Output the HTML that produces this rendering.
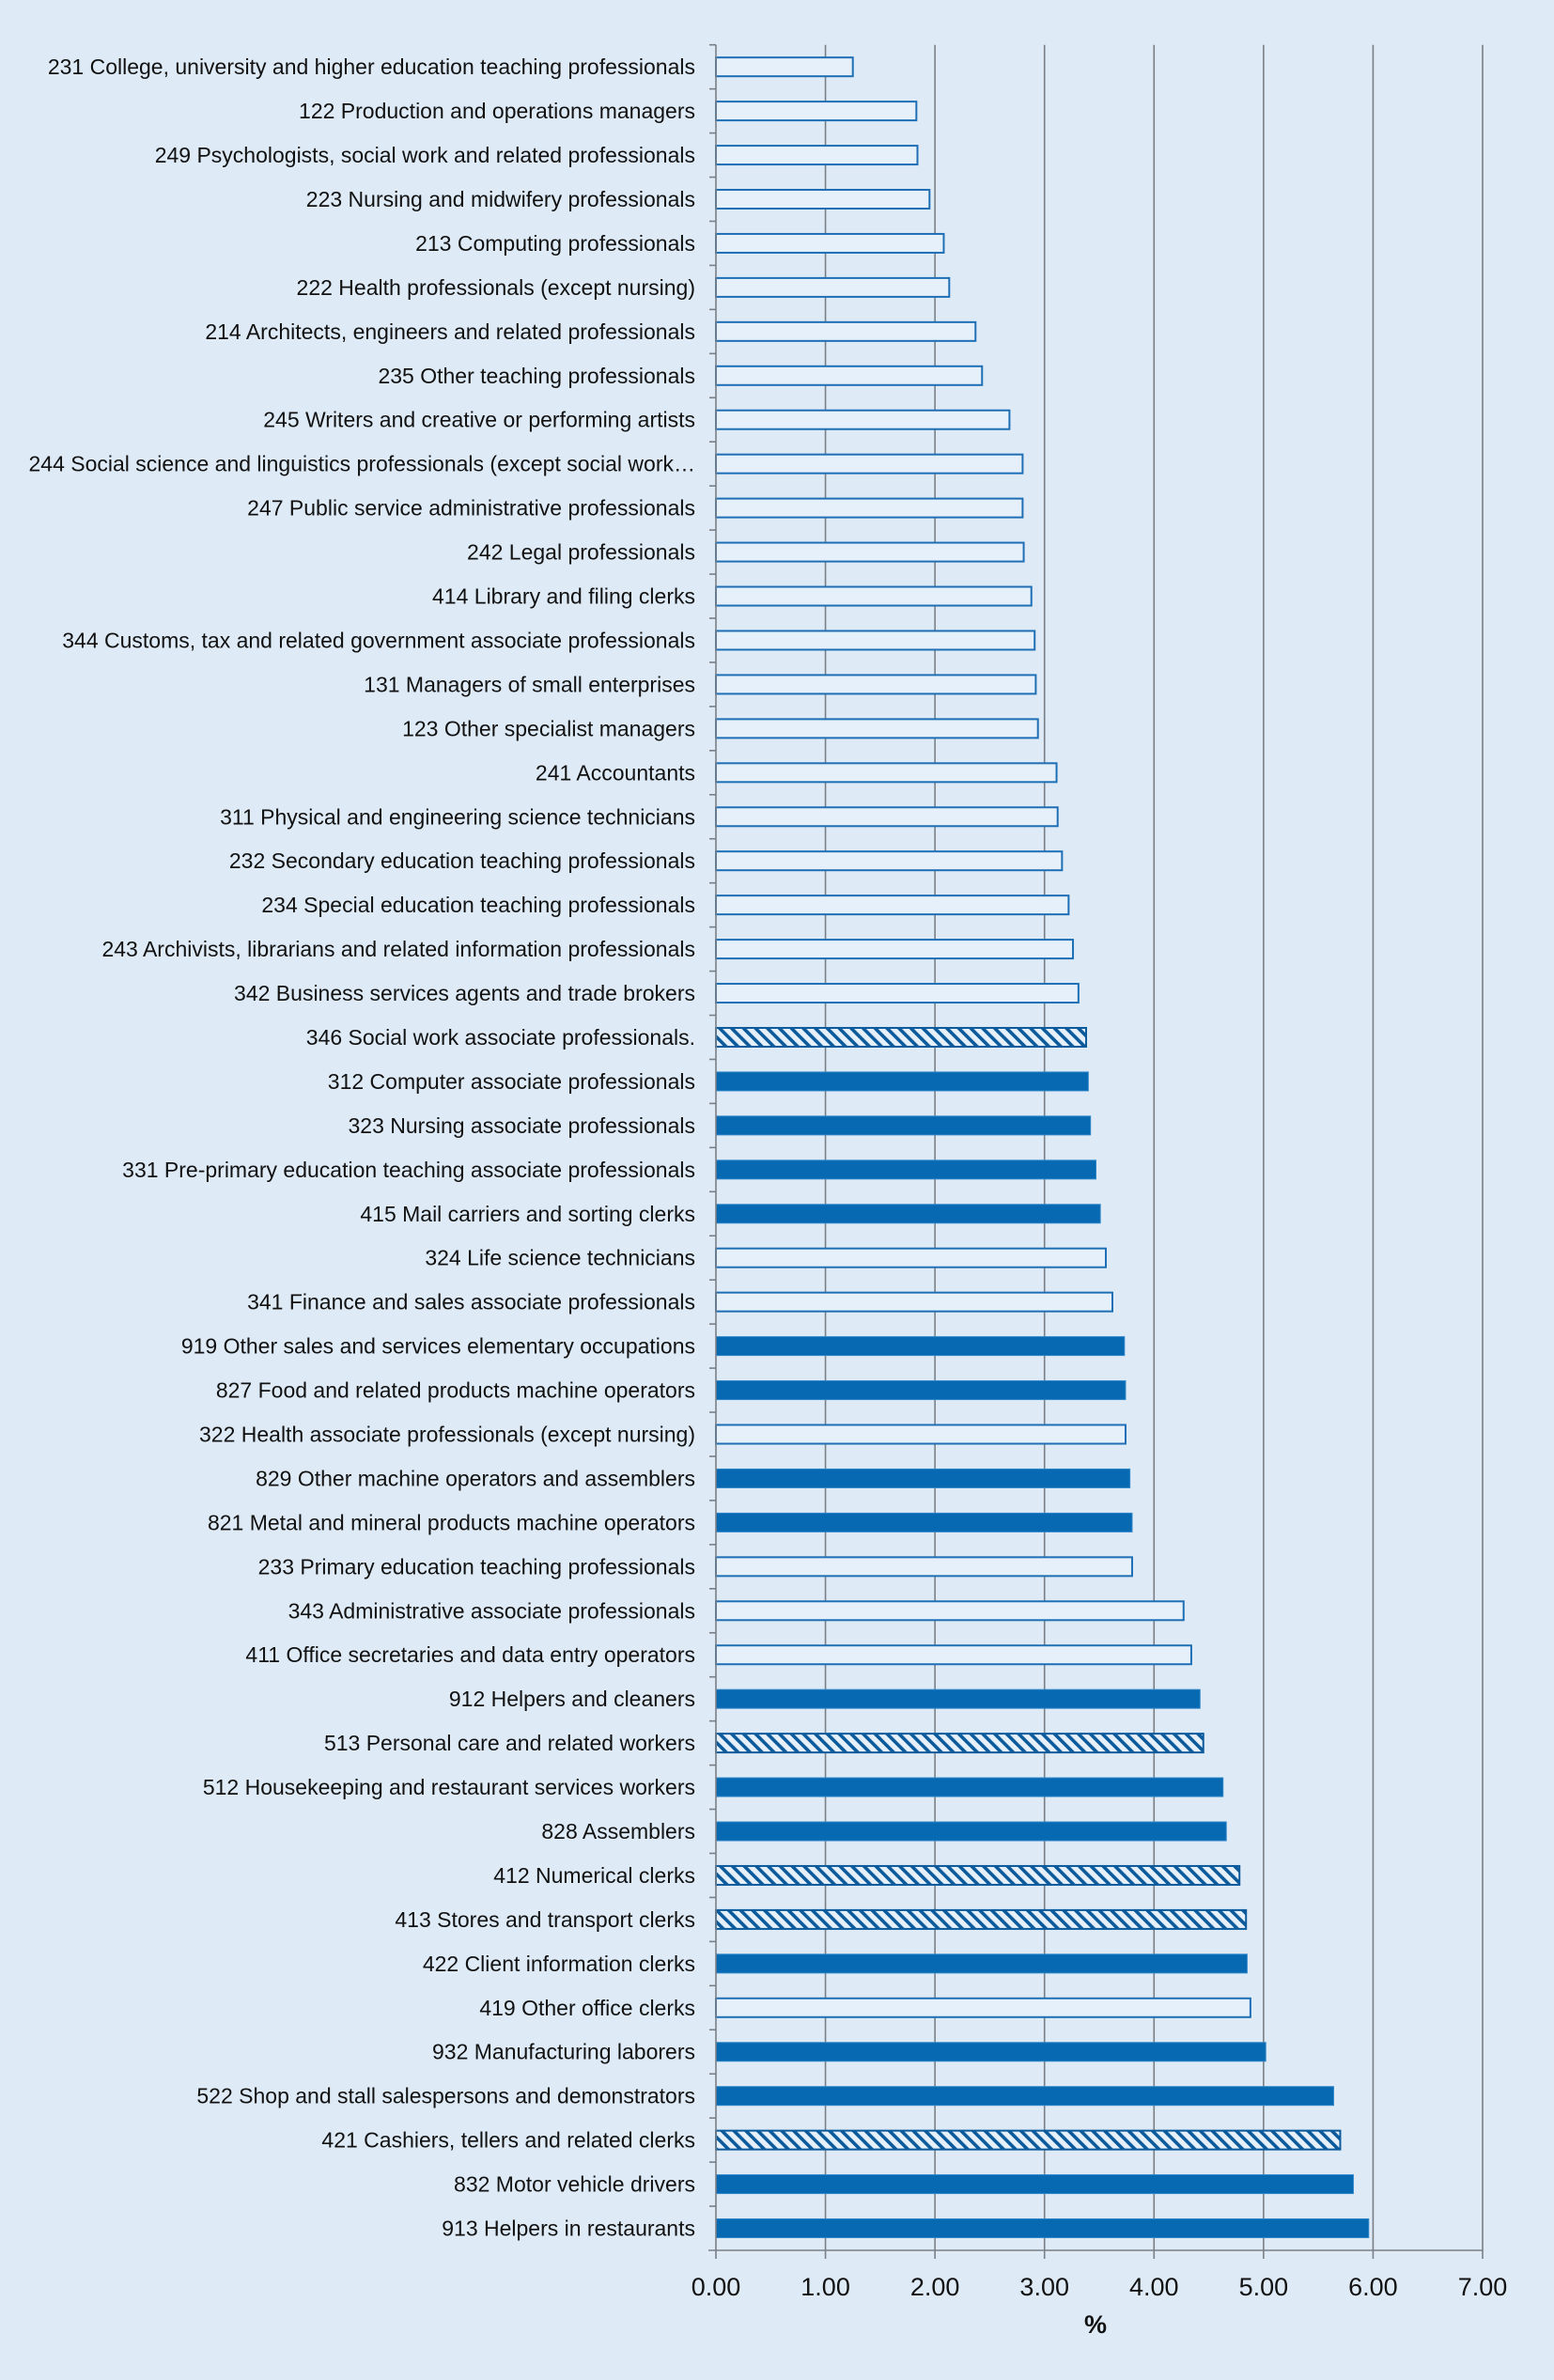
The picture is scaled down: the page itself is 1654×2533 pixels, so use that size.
<!DOCTYPE html>
<html><head><meta charset="utf-8"><style>
html,body{margin:0;padding:0;background:#deebf7;}
svg{display:block;font-family:"Liberation Sans",sans-serif;}
</style></head><body>
<svg id="chart" width="1654" height="2533" viewBox="0 0 1654 2533" xmlns="http://www.w3.org/2000/svg">
<defs>
<pattern id="hatch" patternUnits="userSpaceOnUse" width="9" height="9" patternTransform="rotate(-45)">
<rect width="9" height="9" fill="#e6f0fa"/>
<rect x="0" y="0" width="3.6" height="9" fill="#0b5a9c"/>
</pattern>
</defs>
<rect width="1654" height="2533" fill="#deebf7"/>
<g id="grid"></g><g id="bars"></g><g id="labels"></g><g id="axis"></g>
</svg>
<script>
const categories = ["231 College, university and higher education teaching professionals","122 Production and operations managers","249 Psychologists, social work and related professionals","223 Nursing and midwifery professionals","213 Computing professionals","222 Health professionals (except nursing)","214 Architects, engineers and related professionals","235 Other teaching professionals","245 Writers and creative or performing artists","244 Social science and linguistics professionals (except social work\u2026","247 Public service administrative professionals","242 Legal professionals","414 Library and filing clerks","344 Customs, tax and related government associate professionals","131 Managers of small enterprises","123 Other specialist managers","241 Accountants","311 Physical and engineering science technicians","232 Secondary education teaching professionals","234 Special education teaching professionals","243 Archivists, librarians and related information professionals","342 Business services agents and trade brokers","346 Social work associate professionals.","312 Computer associate professionals","323 Nursing associate professionals","331 Pre-primary education teaching associate professionals","415 Mail carriers and sorting clerks","324 Life science technicians","341 Finance and sales associate professionals","919 Other sales and services elementary occupations","827 Food and related products machine operators","322 Health associate professionals (except nursing)","829 Other machine operators and assemblers","821 Metal and mineral products machine operators","233 Primary education teaching professionals","343 Administrative associate professionals","411 Office secretaries and data entry operators","912 Helpers and cleaners","513 Personal care and related workers","512 Housekeeping and restaurant services workers","828 Assemblers","412 Numerical clerks","413 Stores and transport clerks","422 Client information clerks","419 Other office clerks","932 Manufacturing laborers","522 Shop and stall salespersons and demonstrators","421 Cashiers, tellers and related clerks","832 Motor vehicle drivers","913 Helpers in restaurants"];
const values = [1.25,1.83,1.84,1.95,2.08,2.13,2.37,2.43,2.68,2.80,2.80,2.81,2.88,2.91,2.92,2.94,3.11,3.12,3.16,3.22,3.26,3.31,3.38,3.40,3.42,3.47,3.51,3.56,3.62,3.73,3.74,3.74,3.78,3.80,3.80,4.27,4.34,4.42,4.45,4.63,4.66,4.78,4.84,4.85,4.88,5.02,5.64,5.70,5.82,5.96];
const styles = ["o","o","o","o","o","o","o","o","o","o","o","o","o","o","o","o","o","o","o","o","o","o","h","f","f","f","f","o","o","f","f","o","f","f","o","o","o","f","h","f","f","h","h","f","o","f","f","h","f","f"];
const ticks = [0,1,2,3,4,5,6,7];
const tickLabels = ["0.00","1.00","2.00","3.00","4.00","5.00","6.00","7.00"];

const NS="http://www.w3.org/2000/svg";
const X0=762, X1=1578, XMAX=7, YTOP=47.7, YBOT=2395;
const band=(YBOT-YTOP)/categories.length, barH=20;
function xs(v){return X0+(X1-X0)*v/XMAX;}
function ys(i){return YTOP+band*i;}
function mk(tag,attrs,parent){const e=document.createElementNS(NS,tag);for(const k in attrs)e.setAttribute(k,attrs[k]);parent.appendChild(e);return e;}
const grid=document.getElementById('grid'),bars=document.getElementById('bars'),labels=document.getElementById('labels'),axis=document.getElementById('axis');
ticks.forEach((t,i)=>{
  if(t>0){const l=mk('line',{x1:xs(t),x2:xs(t),y1:YTOP,y2:YBOT,stroke:'#7a7f86','stroke-width':1.6},grid);
  
  }
  const tk=mk('line',{x1:xs(t),x2:xs(t),y1:YBOT,y2:YBOT+9,stroke:'#7a7f86','stroke-width':1.6},axis);
  
  
  const tl=mk('text',{x:xs(t),y:YBOT+48,'text-anchor':'middle','font-size':27,fill:'#111'},axis);
  tl.textContent=tickLabels[i];
  
  
});
const xl=mk('line',{x1:X0-8,x2:X1,y1:YBOT,y2:YBOT,stroke:'#7a7f86','stroke-width':1.6},axis);


const yl=mk('line',{x1:X0,x2:X0,y1:YTOP,y2:YBOT,stroke:'#7a7f86','stroke-width':1.6},axis);


const xt=mk('text',{x:(X0+X1)/2-4,y:YBOT+88,'text-anchor':'middle','font-size':27,'font-weight':'bold',fill:'#111'},axis);
xt.textContent='%';


categories.forEach((c,i)=>{
  const tk=mk('line',{x1:X0-7,x2:X0,y1:ys(i),y2:ys(i),stroke:'#7a7f86','stroke-width':1.6},axis);
  
  
  const cy=ys(i)+band/2, s=styles[i];
  const attrs={x:X0,y:cy-barH/2,width:xs(values[i])-X0,height:barH};
  if(s==='f'){attrs.fill='#0669b2';attrs.stroke='#2f86c8';attrs['stroke-width']=1;}
  else if(s==='h'){attrs.fill='url(#hatch)';attrs.stroke='#0b5a9c';attrs['stroke-width']=2;}
  else{attrs.fill='#e6f0fa';attrs.stroke='#1e6fb5';attrs['stroke-width']=2;}
  const r=mk('rect',attrs,bars);
  
  
  const t=mk('text',{x:740,y:cy+8,'text-anchor':'end','font-size':23,fill:'#111'},labels);
  t.textContent=c;
  
  
});
</script>
</body></html>
